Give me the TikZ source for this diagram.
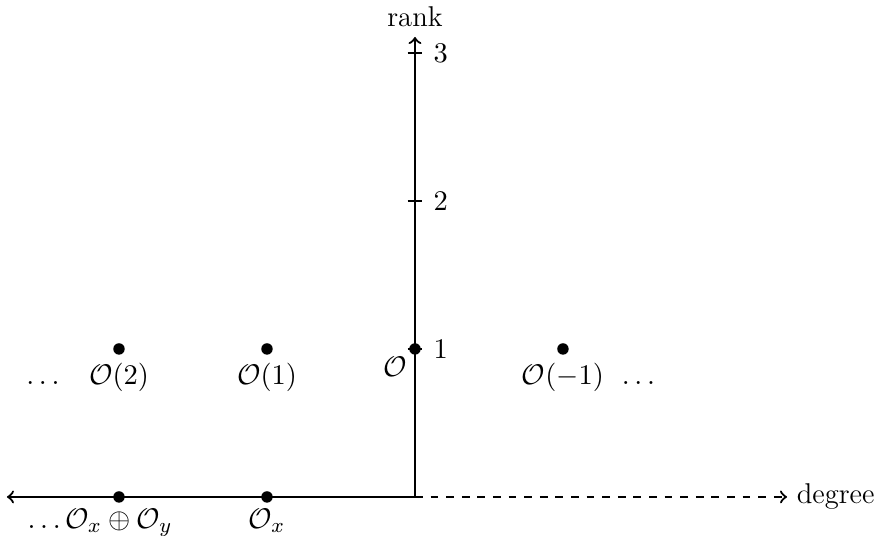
\documentclass[tikz,border=0pt]{standalone}
\usetikzlibrary{positioning}
\begin{document}
\begin{tikzpicture}[x=2cm,y=2cm,line width=0.85pt,
  font=\fontsize{11}{13.5}\selectfont,
  dot/.style={circle,fill=black,inner sep=0pt,minimum size=4.4pt},
  ticklab/.style={anchor=west,inner sep=3.33pt},
  lab/.style={inner sep=2.5pt}]
\useasboundingbox (-2.804,-0.2635) rectangle (3.149,3.358);
% axes
\coordinate (O) at (0,0);
\coordinate (L) at (-2.757,0);
\coordinate (R) at (2.514,0);
\coordinate (T) at (0,3.108);
\draw[->] (O) -- (L);
\draw[->,dashed] (O) -- (R);
\draw[->] (O) -- (T);
\node[anchor=west] (deg) at (R) {degree};
\node[anchor=base] (rank) at (0,3.176) {rank};
% ticks
\foreach \y in {1,2,3}{
  \coordinate (ta\y) at (-0.05,\y);
  \coordinate (tb\y) at (0.05,\y);
  \draw (ta\y) -- (tb\y);
  \node[ticklab] (tl\y) at (0.06,\y) {$\y$};
}
% rank one dots
\node[dot] (p2) at (-2,1) {};
\node[dot] (p1) at (-1,1) {};
\node[dot] (p0) at (0,1) {};
\node[dot] (pm1) at (1,1) {};
\node[lab,below=0pt of p2] (l2) {$\mathcal{O}(2)$};
\node[lab,below=0pt of p1] (l1) {$\mathcal{O}(1)$};
\node[lab,anchor=north east] (l0) at (p0.center) {$\mathcal{O}$};
\node[lab,below=0pt of pm1] (lm1) {$\mathcal{O}(-1)$};
\coordinate (dl) at (-2.514,1);
\coordinate (dr) at (1.51,1);
\node[anchor=base] (dotsl) at (dl |- l2.base) {$\dots$};
\node[anchor=base] (dotsr) at (dr |- lm1.base) {$\dots$};
% rank zero dots
\node[dot] (q2) at (-2,0) {};
\node[dot] (q1) at (-1,0) {};
\node[lab,inner sep=1.5pt,below=0pt of q2] (lq2) {$\llap{$\dots\,$}\mathcal{O}_x\oplus\mathcal{O}_y$};
\node[lab,inner sep=1.5pt,below=0pt of q1] (lq1) {$\mathcal{O}_x$};
\end{tikzpicture}
\end{document}
